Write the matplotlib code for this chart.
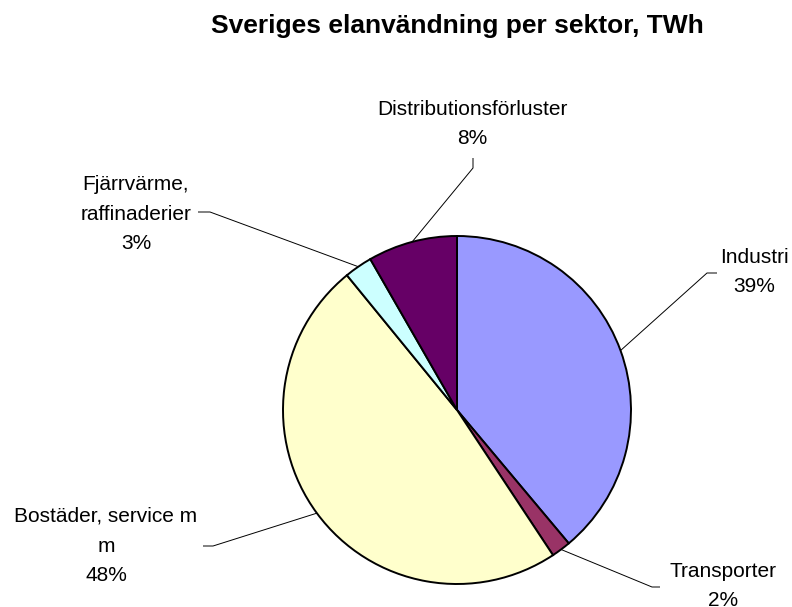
import matplotlib
matplotlib.use("Agg")
import matplotlib.pyplot as plt
import numpy as np

plt.rcParams["font.family"] = ["Liberation Sans", "DejaVu Sans"]

# data
sectors = ["Industri", "Transporter", "Bostäder, service m m",
           "Fjärrvärme, raffinaderier", "Distributionsförluster"]
share = [38.9, 1.8, 48.4, 2.6, 8.3]
colors = ["#9999FF", "#993366", "#FFFFCC", "#CCFFFF", "#660066"]
# how each label is wrapped in the original
label_lines = [["Industri"], ["Transporter"], ["Bostäder, service m", "m"],
               ["Fjärrvärme,", "raffinaderier"], ["Distributionsförluster"]]

W, H = 792, 607
def Y(p):
    return H - p

# label layout in pixels: centre x, first baseline, leader knee, leader end
label_pos = [(754, 263), (723, 577), (106, 522), (136, 190), (472, 115)]
knees = [((707, 273), (717, 273)), ((652, 587), (660, 587)),
         ((213, 546), (203, 546)), ((210, 212), (198, 212)),
         ((473, 168), (473, 158))]
line_step = 29.5

fig = plt.figure(figsize=(W / 100, H / 100), dpi=100)
ax = fig.add_axes([0, 0, 1, 1])

cx, cy, r = 457, Y(410), 174
wedges, _ = ax.pie(share, colors=colors, startangle=90, counterclock=False,
                   radius=r, center=(cx, cy),
                   wedgeprops=dict(edgecolor="black", linewidth=1.4))
ax.set_xlim(0, W)
ax.set_ylim(0, H)
ax.set_aspect("equal")
ax.axis("off")

total = sum(share)
for w, lines, v, (tx, ty), (knee, end) in zip(wedges, label_lines, share, label_pos, knees):
    mid = np.deg2rad((w.theta1 + w.theta2) / 2)
    ex, ey = cx + r * np.cos(mid), cy + r * np.sin(mid)
    ax.plot([ex, knee[0], end[0]], [ey, Y(knee[1]), Y(end[1])],
            color="black", lw=0.7, solid_capstyle="butt")
    for i, s in enumerate(lines + [f"{round(v / total * 100)}%"]):
        ax.text(tx, Y(ty + i * line_step), s, ha="center", va="baseline",
                fontsize=15, color="black")

ax.text(457, Y(33), "Sveriges elanvändning per sektor, TWh", ha="center",
        va="baseline", fontsize=19, fontweight="bold")

fig.savefig("out.png", dpi=100)
